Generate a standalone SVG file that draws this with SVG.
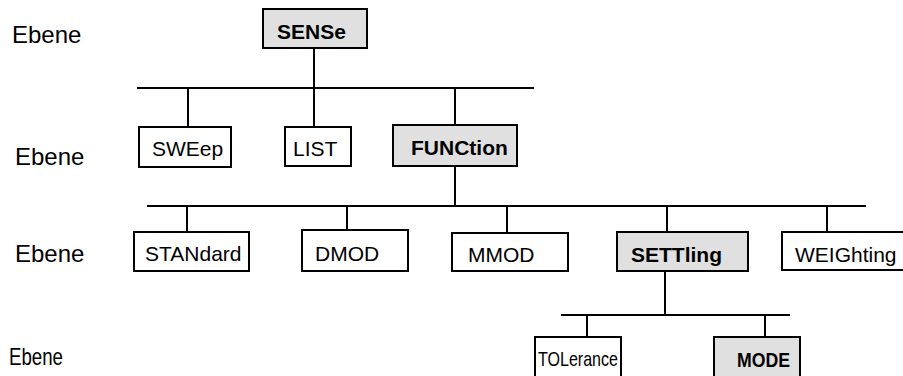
<svg xmlns="http://www.w3.org/2000/svg" width="903" height="376" viewBox="0 0 903 376">
<style>
.box{fill:#fff;stroke:#000;stroke-width:2}
.hl{fill:#e0e0e0;stroke:#000;stroke-width:2}
.t{font-family:"Liberation Sans",Arial,sans-serif;font-size:21px;fill:#000}
.b{font-family:"Liberation Sans",Arial,sans-serif;font-size:21px;font-weight:bold;fill:#000}
.lv{font-family:"Liberation Sans",Arial,sans-serif;font-size:24px;fill:#000}
.ln{stroke:#000;stroke-width:2;fill:none}
</style>
<rect width="903" height="376" fill="#fff"/>
<g id="levels">
<text class="lv" x="12" y="43">Ebene</text>
<text class="lv" x="15" y="165">Ebene</text>
<text class="lv" x="15" y="262">Ebene</text>
<text class="lv" x="9" y="365" textLength="54" lengthAdjust="spacingAndGlyphs">Ebene</text>
</g>
<g id="connectors">
<path class="ln" d="M314 48V88M137 88H534M188 88V127M314 88V127M455 88V125"/>
<path class="ln" d="M455 166V206M147 206H866M187 206V232M347 206V230M507 206V233M667 206V232M827 206V232"/>
<path class="ln" d="M665 271V315M561 315H790M587 315V337M765 315V337"/>
</g>
<g id="SENSe"><rect class="hl" x="263" y="9" width="104" height="39"/><text class="b" x="277" y="39">SENSe</text></g>
<g id="SWEep"><rect class="box" x="139" y="127" width="92" height="40"/><text class="t" x="152" y="156">SWEep</text></g>
<g id="LIST"><rect class="box" x="285" y="127" width="66" height="39"/><text class="t" x="293" y="156">LIST</text></g>
<g id="FUNCtion"><rect class="hl" x="393" y="125" width="124" height="41"/><text class="b" x="411" y="155">FUNCtion</text></g>
<g id="STANdard"><rect class="box" x="134" y="232" width="115" height="39"/><text class="t" x="145" y="261">STANdard</text></g>
<g id="DMOD"><rect class="box" x="302" y="230" width="106" height="41"/><text class="t" x="315" y="261">DMOD</text></g>
<g id="MMOD"><rect class="box" x="452" y="233" width="116" height="38"/><text class="t" x="468" y="262">MMOD</text></g>
<g id="SETTling"><rect class="hl" x="617" y="232" width="131" height="39"/><text class="b" x="631" y="262">SETTling</text></g>
<g id="WEIGhting"><rect class="box" x="782" y="232" width="125" height="38"/><text class="t" x="795" y="262">WEIGhting</text></g>
<g id="TOLerance"><rect class="box" x="535" y="337" width="86" height="41"/><text class="t" x="538" y="366" textLength="80" lengthAdjust="spacingAndGlyphs">TOLerance</text></g>
<g id="MODE"><rect class="hl" x="714" y="337" width="86" height="41"/><text class="b" x="737" y="367" textLength="53" lengthAdjust="spacingAndGlyphs">MODE</text></g>
</svg>
